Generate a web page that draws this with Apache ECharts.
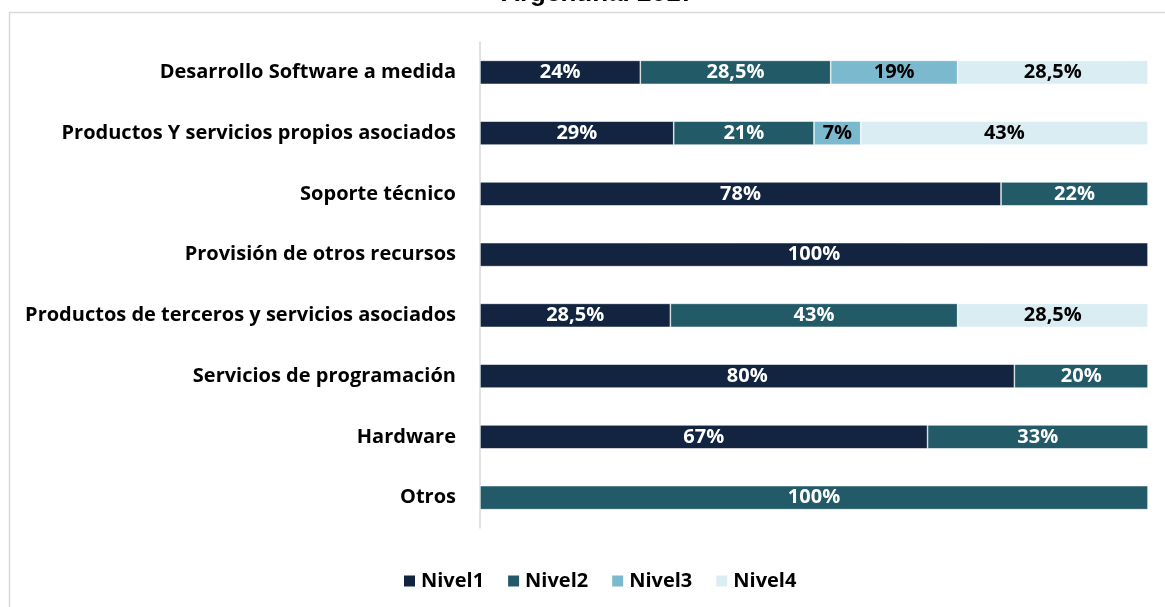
<!DOCTYPE html>
<html>
<head>
<meta charset="utf-8">
<script src="https://cdn.jsdelivr.net/npm/echarts@6/dist/echarts.min.js"></script>
<style>
  html, body { margin: 0; padding: 0; background: #fff; }
  #chart { width: 1165px; height: 607px; }
</style>
</head>
<body>
<div id="chart"></div>
<script>
// categorias de arriba hacia abajo
var categories = [
    "Desarrollo Software a medida",
    "Productos Y servicios propios asociados",
    "Soporte técnico",
    "Provisión de otros recursos",
    "Productos de terceros y servicios asociados",
    "Servicios de programación",
    "Hardware",
    "Otros"
];
var levelNames = ["Nivel1", "Nivel2", "Nivel3", "Nivel4"];
var nivel1 = [24, 29, 78, 100, 28.5, 80, 67, null];
var nivel2 = [28.5, 21, 22, null, 43, 20, 33, 100];
var nivel3 = [19, 7, null, null, null, null, null, null];
var nivel4 = [28.5, 43, null, null, 28.5, null, null, null];

var colors = ["#12243f", "#225a68", "#7bb9cf", "#daedf3"];
var labelColors = ["#fff", "#fff", "#000", "#000"];
var font = "Open Sans";

var myChart = echarts.init(document.getElementById("chart"));

function makeSeries(name, data, i) {
    return {
        name: name,
        type: "bar",
        stack: "total",
        barWidth: 24,
        data: data,
        itemStyle: {
            color: colors[i],
            borderColor: "#fff",
            borderWidth: 0.6
        },
        label: {
            show: true,
            position: "inside",
            color: labelColors[i],
            fontFamily: font,
            fontWeight: "bold",
            fontSize: 20,
            formatter: function (p) {
                return String(p.value).replace(".", ",") + "%";
            }
        }
    };
}

var option = {
    animation: false,
    color: colors,
    title: {
        text: "Argentina. 2017",
        left: 593,
        textAlign: "center",
        top: -24,
        textStyle: {
            fontFamily: "Liberation Sans",
            fontWeight: "bold",
            fontSize: 26,
            color: "#000"
        }
    },
    graphic: [{
        type: "rect",
        shape: { x: 9.5, y: 12.5, width: 1200, height: 700 },
        style: { fill: "none", stroke: "#d9d9d9", lineWidth: 1.5 },
        silent: true
    }],
    legend: {
        data: levelNames,
        top: 566,
        left: 397,
        icon: "rect",
        itemWidth: 13,
        itemHeight: 13,
        itemGap: 22,
        textStyle: {
            fontFamily: font,
            fontWeight: "bold",
            fontSize: 20,
            color: "#000"
        }
    },
    grid: {
        left: 480,
        right: 17,
        top: 42,
        bottom: 79,
        containLabel: false
    },
    xAxis: {
        type: "value",
        min: 0,
        max: 100,
        show: false
    },
    yAxis: {
        type: "category",
        data: categories,
        inverse: true,
        axisLine: { show: true, lineStyle: { color: "#d9d9d9", width: 1.5 } },
        axisTick: { show: false },
        axisLabel: {
            margin: 24,
            fontFamily: font,
            fontWeight: "bold",
            fontSize: 20,
            color: "#000"
        }
    },
    series: [
        makeSeries(levelNames[0], nivel1, 0),
        makeSeries(levelNames[1], nivel2, 1),
        makeSeries(levelNames[2], nivel3, 2),
        makeSeries(levelNames[3], nivel4, 3)
    ]
};
myChart.setOption(option);
</script>
</body>
</html>
